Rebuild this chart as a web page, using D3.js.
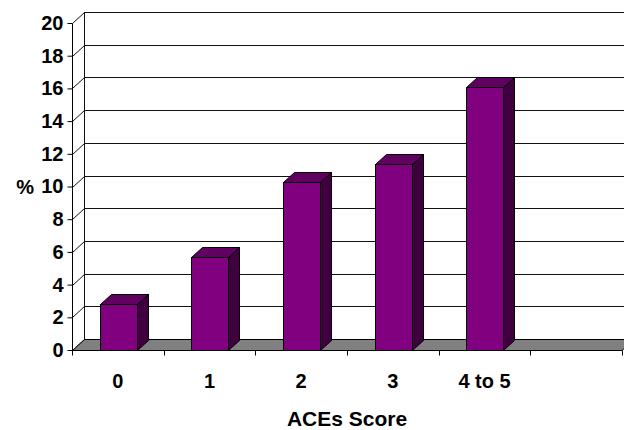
<!DOCTYPE html>
<html><head><meta charset="utf-8">
<script src="https://cdn.jsdelivr.net/npm/d3@7"></script>
<style>
html,body{margin:0;padding:0;background:#fff;}
svg{display:block;}
text{font-family:"Liberation Sans",Arial,sans-serif;font-weight:bold;fill:#000;}
</style></head>
<body>
<svg id="chart" width="624" height="430"></svg>
<script>
const categories = ["0", "1", "2", "3", "4 to 5"];
const values = [2.8, 5.7, 10.3, 11.4, 16.1];
const yTicks = [0, 2, 4, 6, 8, 10, 12, 14, 16, 18, 20];
const xTitle = "ACEs Score";
const yTitle = "%";
const slots = 6; // one empty slot on the right

(function () {
const svg = d3.select("#chart");
const W = 624;
const pLeft = 72, pRight = 622, pBottom = 350, pTop = 23;
const wdx = 12, wdy = -11;   // wall depth offset
const bdx = 11, bdy = -10;   // bar depth offset

const x = d3.scaleBand().domain(d3.range(slots)).range([pLeft, pRight]);
const y = d3.scaleLinear().domain([0, 20]).range([pBottom, pTop]);

const g = svg.append("g");

// back wall gridlines
g.selectAll("line.grid").data(yTicks).enter().append("line")
  .attr("x1", pLeft + wdx).attr("x2", W + 20)
  .attr("y1", d => Math.round(y(d) + wdy) + 0.5)
  .attr("y2", d => Math.round(y(d) + wdy) + 0.5)
  .attr("stroke", "#111").attr("stroke-width", 1);

// side wall diagonals
g.selectAll("line.diag").data(yTicks).enter().append("line")
  .attr("x1", pLeft + 0.5).attr("y1", d => Math.round(y(d)) + 0.5)
  .attr("x2", pLeft + wdx + 0.5).attr("y2", d => Math.round(y(d) + wdy) + 0.5)
  .attr("stroke", "#111").attr("stroke-width", 1);

// back wall left vertical line
g.append("line")
  .attr("x1", pLeft + wdx + 0.5).attr("x2", pLeft + wdx + 0.5)
  .attr("y1", Math.round(y(20) + wdy) + 0.5).attr("y2", Math.round(y(0) + wdy) + 0.5)
  .attr("stroke", "#111");

// floor
const fy0 = Math.round(y(0)) + 0.5;
g.append("path")
  .attr("d", `M${pLeft + 0.5},${fy0} L${pRight},${fy0} L${pRight + wdx},${fy0 + wdy} L${pLeft + wdx + 0.5},${fy0 + wdy} Z`)
  .attr("fill", "#808080").attr("stroke", "#000").attr("stroke-width", 1);

// bars
const bw = x.bandwidth() * 0.4;
const bars = g.selectAll("g.bar").data(values).enter().append("g");
bars.each(function (v, i) {
  const gb = d3.select(this);
  const x0 = Math.round(x(i) + (x.bandwidth() - bw) / 2) + 0.5;
  const x1 = x0 + Math.round(bw);
  const yt = Math.round(y(v)) + 0.5;
  const yb = Math.round(y(0)) + 0.5;
  gb.append("path")
    .attr("d", `M${x1},${yb} L${x1 + bdx},${yb + bdy} L${x1 + bdx},${yt + bdy} L${x1},${yt} Z`)
    .attr("fill", "#400040").attr("stroke", "#000");
  gb.append("path")
    .attr("d", `M${x0},${yt} L${x0 + bdx},${yt + bdy} L${x1 + bdx},${yt + bdy} L${x1},${yt} Z`)
    .attr("fill", "#600060").attr("stroke", "#000");
  gb.append("rect")
    .attr("x", x0).attr("y", yt).attr("width", x1 - x0).attr("height", yb - yt)
    .attr("fill", "#800080").attr("stroke", "#000");
});

// front value axis
const yAxis = d3.axisLeft(y).tickValues(yTicks).tickSize(5).tickPadding(4).tickFormat(d3.format("d"));
const ya = svg.append("g").attr("transform", `translate(${pLeft + 0.5},0)`).call(yAxis);
ya.select(".domain").attr("stroke", "#000").attr("d", `M0,${Math.round(y(20)) + 0.5}V${Math.round(y(0)) + 0.5}`);
ya.selectAll(".tick line").attr("stroke", "#000");
ya.selectAll(".tick text").attr("font-size", 20).attr("font-family", "'Liberation Sans', Arial, sans-serif")
  .attr("font-weight", "bold").attr("fill", "#000");

// category axis
const xa = svg.append("g").attr("transform", `translate(0,${Math.round(y(0)) + 0.5})`);
xa.append("line").attr("x1", pLeft).attr("x2", pRight).attr("stroke", "#000");
const bounds = d3.range(slots + 1).map(i => i < slots ? x(i) : pRight);
xa.selectAll("line.tk").data(bounds).enter().append("line")
  .attr("x1", d => Math.round(d) + 0.5).attr("x2", d => Math.round(d) + 0.5)
  .attr("y1", 0).attr("y2", 5).attr("stroke", "#000");
xa.selectAll("text.cat").data(categories).enter().append("text")
  .attr("x", (d, i) => x(i) + x.bandwidth() / 2)
  .attr("y", 37)
  .attr("text-anchor", "middle").attr("font-size", 20).text(d => d);

// titles
svg.append("text").attr("x", 347).attr("y", 426).attr("text-anchor", "middle")
  .attr("font-size", 21).text(xTitle);
svg.append("text").attr("x", 34).attr("y", y(10) + 7).attr("text-anchor", "end")
  .attr("font-size", 20).text(yTitle);
})();
</script>
</body></html>
